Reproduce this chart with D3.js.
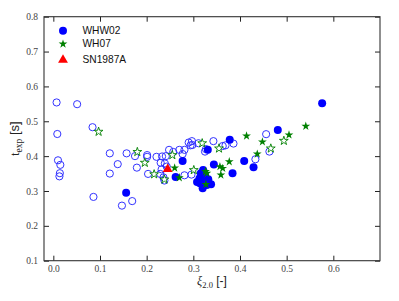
<!DOCTYPE html>
<html><head><meta charset="utf-8">
<script src="https://cdn.jsdelivr.net/npm/d3@7"></script>
<style>body{margin:0;background:#fff}svg{display:block}</style>
</head><body>
<svg id="c" width="399" height="301"></svg>
<script>
const xTicks = [0.0, 0.1, 0.2, 0.3, 0.4, 0.5, 0.6];
const yTicks = [0.1, 0.2, 0.3, 0.4, 0.5, 0.6, 0.7, 0.8];
const legendLabels = ["WHW02", "WH07", "SN1987A"];

// WHW02 (open circles)
const whw02Open = [
 [0.007,0.554],[0.051,0.549],[0.0085,0.4635],[0.084,0.483],[0.010,0.388],[0.015,0.375],
 [0.014,0.351],[0.013,0.342],[0.121,0.408],[0.157,0.408],[0.138,0.377],[0.121,0.350],
 [0.086,0.283],[0.147,0.258],[0.169,0.271],[0.175,0.400],[0.179,0.367],[0.201,0.403],
 [0.201,0.398],[0.221,0.398],[0.203,0.349],[0.233,0.399],[0.241,0.400],[0.248,0.418],
 [0.257,0.412],[0.270,0.418],[0.277,0.406],[0.290,0.439],[0.294,0.431],[0.230,0.381],
 [0.239,0.379],[0.243,0.370],[0.232,0.362],[0.229,0.349],[0.236,0.339],[0.238,0.330],
 [0.281,0.345],[0.296,0.347],[0.281,0.418],[0.297,0.443],[0.298,0.432],[0.311,0.437],
 [0.325,0.413],[0.327,0.420],[0.343,0.443],[0.363,0.429],[0.369,0.431],[0.386,0.436],
 [0.456,0.463],[0.463,0.413],[0.433,0.391]
];
// WHW02 (filled circles)
const whw02Filled = [
 [0.576,0.552],[0.481,0.475],[0.378,0.447],[0.331,0.418],[0.277,0.386],[0.409,0.386],
 [0.429,0.368],[0.344,0.376],[0.384,0.351],[0.262,0.340],[0.156,0.295],[0.321,0.360],
 [0.316,0.351],[0.325,0.346],[0.313,0.336],[0.320,0.330],[0.332,0.334],[0.308,0.326],
 [0.314,0.322],[0.329,0.317],[0.338,0.319],[0.320,0.308]
];
// WH07 (open stars)
const wh07Open = [
 [0.097,0.470],[0.180,0.412],[0.196,0.381],[0.216,0.348],[0.238,0.333],[0.255,0.403],
 [0.301,0.360],[0.319,0.437],[0.355,0.422],[0.494,0.444],[0.466,0.422]
];
// WH07 (filled stars)
const wh07Filled = [
 [0.541,0.486],[0.505,0.461],[0.414,0.458],[0.448,0.441],[0.437,0.406],[0.377,0.384],
 [0.357,0.370],[0.363,0.365],[0.359,0.346],[0.260,0.366],[0.270,0.338],[0.326,0.356],
 [0.329,0.351],[0.327,0.319]
];
// SN1987A
const sn1987a = [[0.245,0.3625]];

const svg = d3.select("#c");
const L = 44, R = 380, T = 16.7, B = 260.7;
const x = d3.scaleLinear().domain([-0.02, 0.70]).range([L, R]);
const y = d3.scaleLinear().domain([0.1, 0.8]).range([B, T]);
const fmt = d3.format(".1f");
const serif = "'Liberation Serif','DejaVu Serif',serif";
const sans = "'Liberation Sans',Arial,sans-serif";

// axes (inward ticks, mirrored)
const axB = svg.append("g").attr("transform", `translate(0,${B})`)
  .call(d3.axisBottom(x).tickValues(xTicks).tickSizeInner(-5).tickSizeOuter(0).tickPadding(5).tickFormat(fmt));
const axT = svg.append("g").attr("transform", `translate(0,${T})`)
  .call(d3.axisTop(x).tickValues(xTicks).tickSizeInner(-5).tickSizeOuter(0).tickFormat(""));
const axL = svg.append("g").attr("transform", `translate(${L},0)`)
  .call(d3.axisLeft(y).tickValues(yTicks).tickSizeInner(-5).tickSizeOuter(0).tickPadding(6).tickFormat(fmt));
const axR = svg.append("g").attr("transform", `translate(${R},0)`)
  .call(d3.axisRight(y).tickValues(yTicks).tickSizeInner(-5).tickSizeOuter(0).tickFormat(""));
[axB, axT, axL, axR].forEach(a => {
  a.select(".domain").remove();
  a.selectAll(".tick line").attr("stroke", "#222").attr("stroke-width", 1);
  a.selectAll("text").attr("font-family", serif).attr("font-size", 9.5).attr("fill", "#444");
});
svg.append("rect").attr("x", L).attr("y", T).attr("width", R - L).attr("height", B - T)
  .attr("fill", "none").attr("stroke", "#333").attr("stroke-width", 1.1);

const plot = svg.append("g");
plot.selectAll(".oc").data(whw02Open).join("circle")
  .attr("cx", d => x(d[0])).attr("cy", d => y(d[1])).attr("r", 3.6)
  .attr("fill", "none").attr("stroke", "#3333ff").attr("stroke-width", 1);
plot.selectAll(".fc").data(whw02Filled).join("circle")
  .attr("cx", d => x(d[0])).attr("cy", d => y(d[1])).attr("r", 4)
  .attr("fill", "#0000ff");
const star = d3.symbol().type(d3.symbolStar).size(24);
plot.selectAll(".os").data(wh07Open).join("path")
  .attr("d", star).attr("transform", d => `translate(${x(d[0])},${y(d[1])})`)
  .attr("fill", "#fff").attr("stroke", "#008000").attr("stroke-width", 0.9);
plot.selectAll(".fs").data(wh07Filled).join("path")
  .attr("d", star).attr("transform", d => `translate(${x(d[0])},${y(d[1])})`)
  .attr("fill", "#008000");
const tri = d3.symbol().type(d3.symbolTriangle).size(42);
plot.selectAll(".tr").data(sn1987a).join("path")
  .attr("d", tri).attr("transform", d => `translate(${x(d[0])},${y(d[1])})`)
  .attr("fill", "#ff0000");

// legend
const lg = svg.append("g");
const lx = 63, ly = [30.7, 44, 60];
lg.append("circle").attr("cx", lx).attr("cy", ly[0]).attr("r", 4).attr("fill", "#0000ff");
lg.append("path").attr("d", star).attr("transform", `translate(${lx},${ly[1]})`).attr("fill", "#008000");
lg.append("path").attr("d", tri).attr("transform", `translate(${lx},${ly[2]})`).attr("fill", "#ff0000");
legendLabels.forEach((t, i) => {
  lg.append("text").attr("x", 82.5).attr("y", [34.2, 47.4, 63.2][i])
    .attr("font-family", sans).attr("font-size", 10.2).attr("fill", "#111").text(t);
});

// axis labels
const xl = svg.append("text").attr("x", (L + R) / 2).attr("y", 285).attr("text-anchor", "middle")
  .attr("font-size", 12).attr("fill", "#222");
xl.append("tspan").attr("font-family", serif).attr("font-style", "italic").text("ξ");
xl.append("tspan").attr("font-family", serif).attr("font-size", 8.5).attr("dy", 2.5).text("2.0");
xl.append("tspan").attr("font-family", sans).attr("dy", -2.5).text(" [-]");

const yl = svg.append("text").attr("transform", `translate(19,${(T + B) / 2}) rotate(-90)`)
  .attr("text-anchor", "middle").attr("font-size", 13).attr("fill", "#222");
yl.append("tspan").attr("font-family", serif).text("t");
yl.append("tspan").attr("font-family", serif).attr("font-size", 9.5).attr("dy", 3).text("exp");
yl.append("tspan").attr("font-family", sans).attr("dy", -3).text(" [s]");
</script>
</body></html>
